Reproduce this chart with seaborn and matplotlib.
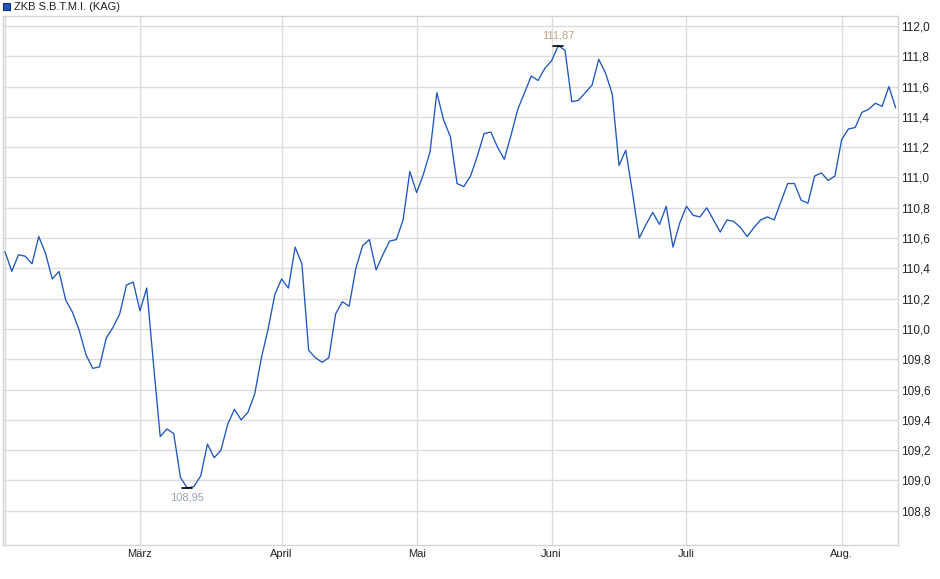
import matplotlib
matplotlib.use("Agg")
import matplotlib.pyplot as plt
import matplotlib.patches as mpatches
from matplotlib.ticker import FuncFormatter
import seaborn as sns
import pandas as pd

# daily closing values (Feb - Aug)
values = [110.51, 110.38, 110.49, 110.48, 110.43, 110.61, 110.50, 110.33, 110.38, 110.19,
          110.11, 109.99, 109.83, 109.74, 109.75, 109.94, 110.01, 110.10, 110.29, 110.31,
          110.12, 110.27, 109.77, 109.29, 109.34, 109.31, 109.02, 108.95, 108.96, 109.03,
          109.24, 109.15, 109.20, 109.37, 109.47, 109.40, 109.45, 109.57, 109.81, 110.00,
          110.23, 110.33, 110.27, 110.54, 110.43, 109.86, 109.81, 109.78, 109.81, 110.10,
          110.18, 110.15, 110.40, 110.55, 110.59, 110.39, 110.49, 110.58, 110.59, 110.72,
          111.04, 110.90, 111.02, 111.17, 111.56, 111.38, 111.27, 110.96, 110.94, 111.01,
          111.14, 111.29, 111.30, 111.20, 111.12, 111.28, 111.45, 111.56, 111.67, 111.64,
          111.72, 111.77, 111.87, 111.84, 111.50, 111.51, 111.56, 111.61, 111.78, 111.69,
          111.55, 111.08, 111.18, 110.90, 110.60, 110.69, 110.77, 110.69, 110.81, 110.54,
          110.70, 110.81, 110.75, 110.74, 110.80, 110.72, 110.64, 110.72, 110.71, 110.67,
          110.61, 110.67, 110.72, 110.74, 110.72, 110.84, 110.96, 110.96, 110.85, 110.83,
          111.01, 111.03, 110.98, 111.01, 111.25, 111.32, 111.33, 111.43, 111.45, 111.49,
          111.47, 111.60, 111.46]
month_labels = ["März", "April", "Mai", "Juni", "Juli", "Aug."]
month_pos = [20, 41, 61, 81, 101, 124]   # trading-day index of the 1st of each month
y_ticks = [108.8, 109.0, 109.2, 109.4, 109.6, 109.8, 110.0, 110.2, 110.4, 110.6,
           110.8, 111.0, 111.2, 111.4, 111.6, 111.8, 112.0]
series_name = "ZKB S.B.T.M.I. (KAG)"

df = pd.DataFrame({"day": range(len(values)), "value": values})

sns.set_style("white")
plt.rcParams["font.family"] = ["Liberation Sans", "DejaVu Sans"]

fig = plt.figure(figsize=(9.4, 5.79), dpi=100)
ax = fig.add_axes([3 / 940, 34 / 579, 895 / 940, 529 / 579])

grid_c = "#dcdcdc"
sns.lineplot(data=df, x="day", y="value", ax=ax, color="#1f56c0", linewidth=0.95, zorder=3)

ax.set_xlim(-0.3, 132.35)
ax.set_ylim(108.574, 112.066)

ax.set_xticks(month_pos)
ax.set_xticklabels(month_labels)
ax.set_yticks(y_ticks)
ax.yaxis.tick_right()
ax.yaxis.set_major_formatter(FuncFormatter(lambda v, p: f"{v:.1f}".replace(".", ",")))
ax.tick_params(axis="both", length=0, colors="#222222")
ax.tick_params(axis="y", pad=2.5, labelsize=8.5)
ax.tick_params(axis="x", pad=3, labelsize=8)
ax.grid(True, color=grid_c, linewidth=1.0)
ax.axvline(0, color=grid_c, linewidth=1.0, zorder=0)
ax.set_xlabel("")
ax.set_ylabel("")
for s in ax.spines.values():
    s.set_color("#d4d4d4")
    s.set_linewidth(1.0)

# max / min markers
i_max = values.index(max(values))
i_min = values.index(min(values))
ax.plot([i_max - 0.75, i_max + 0.75], [values[i_max]] * 2, color="black", linewidth=1.2, zorder=4)
ax.plot([i_min - 0.75, i_min + 0.75], [values[i_min]] * 2, color="black", linewidth=1.2, zorder=4)
ax.annotate(f"{max(values):.2f}".replace(".", ","), (i_max, values[i_max]),
            xytext=(0, 4), textcoords="offset points", ha="center", va="bottom",
            fontsize=8, color="#c4a282")
ax.annotate(f"{min(values):.2f}".replace(".", ","), (i_min, values[i_min]),
            xytext=(0, -3), textcoords="offset points", ha="center", va="top",
            fontsize=8, color="#9aa3ae")

# legend box top left
fig.patches.append(mpatches.Rectangle((3 / 940, 1 - 10 / 579), 7 / 940, 7 / 579,
                                      transform=fig.transFigure, facecolor="#1f56c0",
                                      edgecolor="#1a2f66", linewidth=0.8))
fig.text(14 / 940, 1 - 6.5 / 579, series_name, fontsize=8, va="center", ha="left",
         color="#222222")

fig.savefig("out.png", dpi=100)
